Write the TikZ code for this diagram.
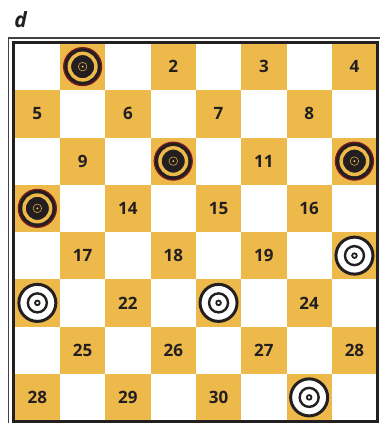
\documentclass[tikz,border=0pt]{standalone}
\usepackage{fontspec}
\setsansfont{Open Sans}
\usepackage{tikz}
\usetikzlibrary{positioning, backgrounds}

\definecolor{boardgold}{HTML}{EDB94A}
\definecolor{inkblack}{HTML}{231F20}
\definecolor{rimred}{HTML}{7E1A1C}

\tikzset{
	numtext/.style={font=\sffamily\bfseries\fontsize{17}{18}\selectfont, text=inkblack, inner sep=0pt}
}
\tikzset{
	darkpiece/.style={
		shape=circle,
		draw=rimred,
		line width=1.2pt,
		fill=inkblack,
		minimum size=38pt,
		inner sep=0pt,
		path picture={
			\draw[boardgold, line width=3.5pt] (path picture bounding box.center) circle (13.3pt);
			\draw[boardgold, line width=0.5pt] (path picture bounding box.center) circle (4.3pt);
			\fill[boardgold] (path picture bounding box.center) circle (1.1pt);
		}
	}
}
\tikzset{
	lightpiece/.style={
		shape=circle,
		draw=inkblack,
		line width=3pt,
		fill=white,
		minimum size=37pt,
		inner sep=0pt,
		path picture={
			\draw[inkblack, line width=2.4pt] (path picture bounding box.center) circle (9.5pt);
			\draw[inkblack, line width=1.8pt] (path picture bounding box.center) circle (2.3pt);
		}
	}
}

\begin{document}
\begin{tikzpicture}[x=1pt, y=-1pt]

\fill[white] (0,0) rectangle (380,423);
\useasboundingbox (0,0) rectangle (380,423);

\node[font=\sffamily\bfseries\itshape\fontsize{21}{22}\selectfont, text=inkblack, inner sep=0pt] (panel) at (20.5,20) {d};

\begin{scope}[shift={(14.7pt,-43pt)}, x=45.3pt, y=-47.25pt]
% board squares
\foreach \r in {1,...,8}{
	\foreach \c in {1,...,8}{
		\pgfmathparse{int(mod(\r+\c,2))}
		\ifnum\pgfmathresult=1
			\fill[boardgold] (\c-1,\r-1) rectangle (\c,\r);
		\fi
	}
}

% square numbers
\node[numtext] (n2) at (3.5,0.5) {2};
\node[numtext] (n3) at (5.5,0.5) {3};
\node[numtext] (n4) at (7.5,0.5) {4};
\node[numtext] (n5) at (0.5,1.5) {5};
\node[numtext] (n6) at (2.5,1.5) {6};
\node[numtext] (n7) at (4.5,1.5) {7};
\node[numtext] (n8) at (6.5,1.5) {8};
\node[numtext] (n9) at (1.5,2.5) {9};
\node[numtext] (n11) at (5.5,2.5) {11};
\node[numtext] (n14) at (2.5,3.5) {14};
\node[numtext] (n15) at (4.5,3.5) {15};
\node[numtext] (n16) at (6.5,3.5) {16};
\node[numtext] (n17) at (1.5,4.5) {17};
\node[numtext] (n18) at (3.5,4.5) {18};
\node[numtext] (n19) at (5.5,4.5) {19};
\node[numtext] (n22) at (2.5,5.5) {22};
\node[numtext] (n24) at (6.5,5.5) {24};
\node[numtext] (n25) at (1.5,6.5) {25};
\node[numtext] (n26) at (3.5,6.5) {26};
\node[numtext] (n27) at (5.5,6.5) {27};
\node[numtext] (n28) at (7.5,6.5) {28};
\node[numtext] (n28b) at (0.5,7.5) {28};
\node[numtext] (n29) at (2.5,7.5) {29};
\node[numtext] (n30) at (4.5,7.5) {30};

% pieces
\node[darkpiece] (d1) at (1.5,0.5) {};
\node[darkpiece] (d10) at (3.5,2.5) {};
\node[darkpiece] (d12) at (7.5,2.5) {};
\node[darkpiece] (d13) at (0.5,3.5) {};
\node[lightpiece] (l20) at (7.5,4.5) {};
\node[lightpiece] (l21) at (0.5,5.5) {};
\node[lightpiece] (l23) at (4.5,5.5) {};
\node[lightpiece] (l31) at (6.5,7.5) {};
\end{scope}

% frame
\draw[inkblack!85, line width=1.8pt] (8.5,423) -- (8.5,38.3) -- (380,38.3);
\draw[inkblack, line width=3pt] (13.3,42) rectangle (377.6,421.3);

\end{tikzpicture}
\end{document}
